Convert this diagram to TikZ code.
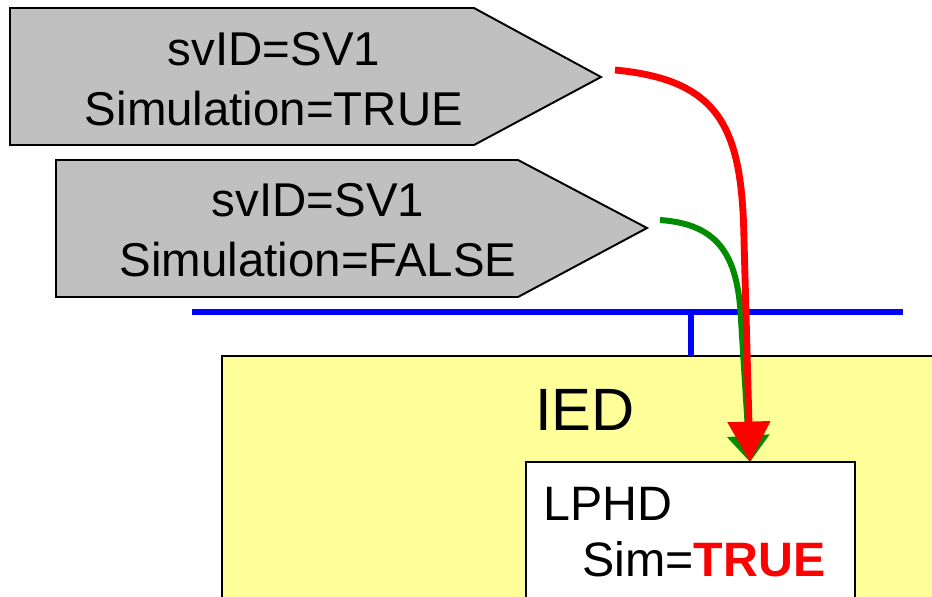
\documentclass[tikz,border=0pt]{standalone}
\usepackage{fontspec}
\setmainfont{Liberation Sans}
\usetikzlibrary{arrows.meta}
\definecolor{sgray}{HTML}{C0C0C0}
\definecolor{iedyellow}{HTML}{FFFF99}
\definecolor{sgreen}{HTML}{008C00}
\tikzset{
  sigbox/.style={draw=black, fill=sgray, line width=1.1pt, line join=miter},
  msgtext/.style={align=center, inner sep=0pt, font=\fontsize{27}{34}\selectfont},
  bigtext/.style={inner sep=0pt, font=\fontsize{34}{40}\selectfont},
  lntext/.style={inner sep=0pt, anchor=base west, font=\fontsize{27.5}{33}\selectfont},
  bus/.style={draw=blue, line width=3.9pt},
  frame/.style={draw=black, line width=1.1pt},
  redarrow/.style={draw=red, line width=3.9pt, -{Triangle[length=23pt,width=23.5pt]}},
  greenarrow/.style={draw=sgreen, line width=3.4pt, -{Triangle[length=15pt,width=23.5pt]}}
}
\begin{document}
\begin{tikzpicture}[x=0.02cm,y=-0.02cm]
\clip (0,0) rectangle (932,596);
\fill[white] (0,0) rectangle (932,596);
% message shapes
\draw[sigbox] (10,8) -- (474,8) -- (601,77) -- (474,145) -- (10,145) -- cycle;
\draw[sigbox] (56,160) -- (518,160) -- (647,228) -- (518,297) -- (56,297) -- cycle;
\node[msgtext] (m1) at (274,79) {svID=SV1\\Simulation=TRUE};
\node[msgtext] (m2) at (318,230) {svID=SV1\\Simulation=FALSE};
% IED box
\draw[frame, fill=iedyellow] (222,356) rectangle (945,620);
\node[bigtext] (ied) at (585,410) {IED};
% bus
\coordinate (busL) at (192,312);
\coordinate (busR) at (903,312);
\coordinate (busT) at (691,312);
\coordinate (iedT) at (691,356);
\draw[bus] (busL) -- (busR);
\draw[bus] (busT) -- (iedT);
% arrows
\coordinate (rs) at (615,70);
\coordinate (gs) at (660,220);
\coordinate (lt) at (750,462);
\draw[greenarrow] (gs) .. controls (716,224) and (738,252) .. (741,320) -- (lt);
\draw[redarrow] (rs) .. controls (722,80) and (742,130) .. (744,240) -- (lt);
% LPHD box
\draw[frame, fill=white] (526,462) rectangle (855,620);
\node[lntext] (lphd) at (543,520) {LPHD};
\node[lntext] (sim) at (582,576) {Sim=\textcolor{red}{\textbf{TRUE}}};
\end{tikzpicture}
\end{document}
